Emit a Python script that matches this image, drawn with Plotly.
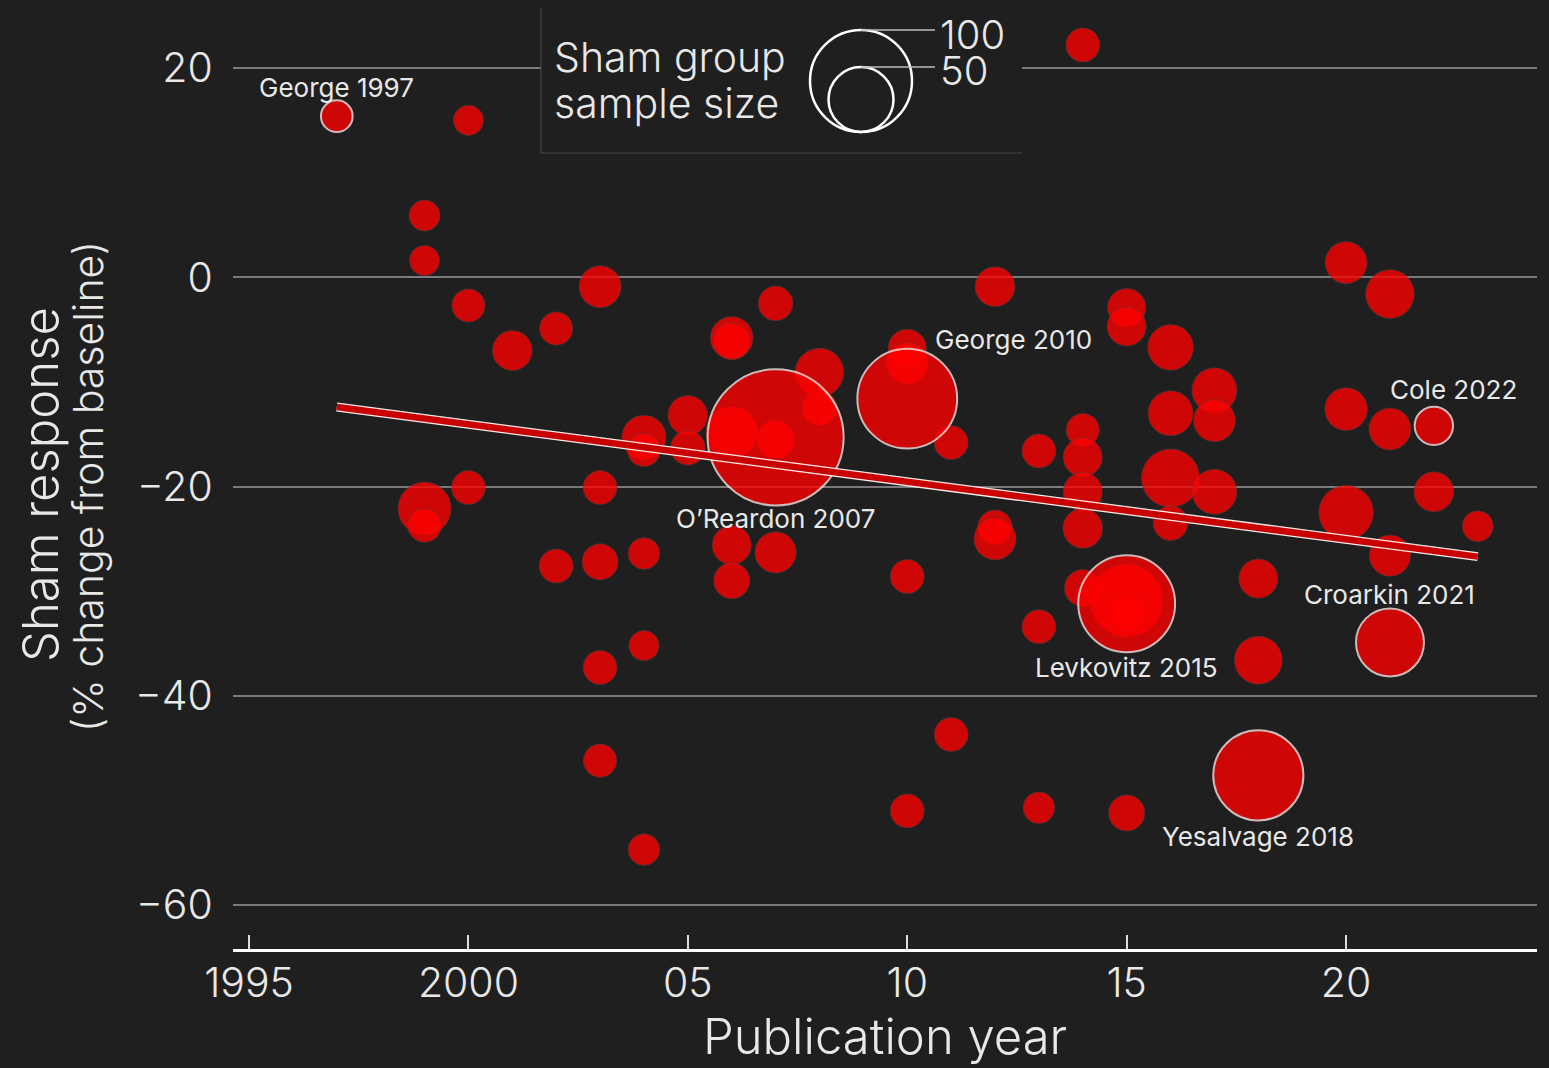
import plotly.graph_objects as go

# ---------------- data ----------------
year = [1997, 1999, 1999, 1999, 1999, 2000, 2000, 2000, 2001, 2002, 2002,
        2003, 2003, 2003, 2003, 2003, 2004, 2004, 2004, 2004, 2004, 2005, 2005,
        2006, 2006, 2006, 2006, 2006, 2007, 2007, 2007, 2007, 2008, 2008,
        2010, 2010, 2010, 2010, 2010, 2011, 2011, 2012, 2012, 2012,
        2013, 2013, 2013, 2014, 2014, 2014, 2014, 2014, 2014,
        2015, 2015, 2015, 2015, 2015, 2015, 2016, 2016, 2016, 2016,
        2017, 2017, 2017, 2018, 2018, 2018, 2020, 2020, 2020,
        2021, 2021, 2021, 2021, 2022, 2022, 2023]
response = [15.4, 5.9, 1.6, -22.1, -23.7, 15.0, -2.7, -20.1, -7.0, -4.9, -27.6,
            -0.9, -20.1, -27.2, -37.3, -46.2, -15.3, -16.5, -26.4, -35.2, -54.7, -13.2, -16.3,
            -5.8, -6.1, -14.8, -25.6, -29.0, -15.3, -15.5, -2.5, -26.3, -9.1, -12.5,
            -11.6, -6.8, -8.2, -28.6, -51.0, -15.8, -43.7, -0.9, -23.9, -25.0,
            -16.6, -33.4, -50.7, 22.2, -14.6, -17.2, -20.5, -24.0, -29.7,
            -31.2, -30.9, -32.1, -2.9, -4.7, -51.2, -6.7, -13.0, -19.2, -23.5,
            -10.8, -13.7, -20.5, -28.8, -36.6, -47.6, 1.4, -12.6, -22.5,
            -1.6, -14.5, -26.6, -34.9, -14.2, -20.5, -23.8]
sham_n = [5, 4, 3, 34, 8, 3, 7, 8, 16, 7, 8,
          19, 8, 11, 8, 7, 22, 7, 5, 3, 5, 16, 9,
          20, 12, 32, 15, 11, 146, 14, 9, 18, 28, 9,
          97, 14, 19, 8, 8, 8, 8, 16, 9, 19,
          8, 8, 5, 8, 7, 15, 15, 16, 12,
          93, 61, 12, 14, 15, 11, 24, 23, 41, 9,
          23, 19, 23, 15, 27, 84, 19, 20, 36,
          28, 19, 18, 54, 14, 16, 4]
study = [""] * len(year)
study[0] = "George 1997"
study[28] = "O\u2019Reardon 2007"
study[34] = "George 2010"
study[53] = "Levkovitz 2015"
study[68] = "Yesalvage 2018"
study[75] = "Croarkin 2021"
study[76] = "Cole 2022"

trend_year = [1997, 2023]
trend_resp = [-12.4, -26.7]

x_tickvals = [1995, 2000, 2005, 2010, 2015, 2020]
x_ticktext = ["1995", "2000", "05", "10", "15", "20"]
y_tickvals = [20, 0, -20, -40, -60]
y_ticktext = ["20", "0", "\u221220", "\u221240", "\u221260"]
legend_sizes = [100, 50]

# ---------------- style ----------------
BG = "#1f1f1f"
TXT = "#e8e8e8"
FONT = "Inter"

def bubble_px(n):
    return 28 + 0.74 * n

# label offsets in pixels (xshift, yshift, xanchor)
label_pos = {
    "George 1997": (0, 29, "center"),
    "O\u2019Reardon 2007": (0, -81, "center"),
    "George 2010": (26, 59, "left"),
    "Levkovitz 2015": (0, -64, "center"),
    "Yesalvage 2018": (0, -61, "center"),
    "Croarkin 2021": (0, 48, "center"),
    "Cole 2022": (20, 36, "center"),
}

W, H = 1549, 1068
L, R, T, B = 233, 12, 0, 119
PW, PH = W - L - R, H - T - B

def px_x(px):
    return (px - L) / PW

def px_y(py):
    return (H - B - py) / PH

plain = [i for i in range(len(year)) if not study[i]]
hl = [i for i in range(len(year)) if study[i]]

fig = go.Figure()
fig.add_trace(go.Scatter(
    x=[year[i] for i in plain], y=[response[i] for i in plain], mode="markers",
    marker=dict(size=[bubble_px(sham_n[i]) for i in plain], sizemode="diameter",
                color="rgb(255,0,0)", opacity=0.78,
                line=dict(width=1, color="rgba(70,70,70,0.6)")),
    hoverinfo="skip", showlegend=False))
fig.add_trace(go.Scatter(
    x=[year[i] for i in hl], y=[response[i] for i in hl], mode="markers",
    marker=dict(size=[bubble_px(sham_n[i]) for i in hl], sizemode="diameter",
                color="rgb(255,0,0)", opacity=0.78,
                line=dict(width=2, color="rgba(255,230,230,1)")),
    hoverinfo="skip", showlegend=False))
fig.add_trace(go.Scatter(x=trend_year, y=trend_resp, mode="lines",
                         line=dict(color="rgba(255,235,235,1)", width=9),
                         hoverinfo="skip", showlegend=False))
fig.add_trace(go.Scatter(x=trend_year, y=trend_resp, mode="lines",
                         line=dict(color="rgb(200,0,0)", width=6.5),
                         hoverinfo="skip", showlegend=False))

annotations = []
for i in hl:
    dx, dy, xa = label_pos[study[i]]
    annotations.append(dict(x=year[i], y=response[i], xref="x", yref="y",
                            text=study[i], showarrow=False, xshift=dx, yshift=dy,
                            xanchor=xa, yanchor="middle",
                            font=dict(family=FONT, size=26, color=TXT, weight=400)))

# axis titles
annotations.append(dict(x=px_x(885), y=px_y(1036), xref="paper", yref="paper",
                        text="Publication year", showarrow=False,
                        xanchor="center", yanchor="middle",
                        font=dict(family=FONT, size=49, color=TXT, weight=300)))
annotations.append(dict(x=px_x(40), y=px_y(485), xref="paper", yref="paper",
                        text="Sham response", showarrow=False, textangle=-90,
                        xanchor="center", yanchor="middle",
                        font=dict(family=FONT, size=49, color=TXT, weight=300)))
annotations.append(dict(x=px_x(88), y=px_y(487), xref="paper", yref="paper",
                        text="(% change from baseline)", showarrow=False, textangle=-90,
                        xanchor="center", yanchor="middle",
                        font=dict(family=FONT, size=41, color=TXT, weight=300)))

# size legend
shapes = []
shapes.append(dict(type="rect", xref="paper", yref="paper",
                   x0=px_x(541), x1=px_x(1022), y0=px_y(153), y1=px_y(6),
                   fillcolor=BG, line=dict(width=0), layer="above"))
shapes.append(dict(type="line", xref="paper", yref="paper",
                   x0=px_x(541), x1=px_x(1022), y0=px_y(153), y1=px_y(153),
                   line=dict(color="#4a4a4a", width=1), layer="above"))
shapes.append(dict(type="line", xref="paper", yref="paper",
                   x0=px_x(541), x1=px_x(541), y0=px_y(153), y1=px_y(8),
                   line=dict(color="#4a4a4a", width=1), layer="above"))
cx, cb = 861, 132
for n in legend_sizes:
    d = bubble_px(n)
    shapes.append(dict(type="circle", xref="paper", yref="paper",
                       xsizemode="pixel", ysizemode="pixel",
                       xanchor=px_x(cx), yanchor=px_y(cb),
                       x0=-d / 2, x1=d / 2, y0=0, y1=d,
                       line=dict(color="white", width=2.5), layer="above"))
    shapes.append(dict(type="line", xref="paper", yref="paper",
                       x0=px_x(cx), x1=px_x(935), y0=px_y(cb - d), y1=px_y(cb - d),
                       line=dict(color="#bdbdbd", width=1.5), layer="above"))
    annotations.append(dict(x=px_x(938), y=px_y(cb - d + 4), xref="paper", yref="paper",
                            text=str(n), showarrow=False, xanchor="left", yanchor="middle",
                            font=dict(family=FONT, size=40, color=TXT, weight=300)))
for txt, yy in [("Sham group", 57), ("sample size", 103)]:
    annotations.append(dict(x=px_x(552), y=px_y(yy), xref="paper", yref="paper",
                            text=txt, showarrow=False,
                            xanchor="left", yanchor="middle", align="left",
                            font=dict(family=FONT, size=41, color=TXT, weight=300)))

fig.update_layout(
    width=W, height=H,
    margin=dict(l=L, r=R, t=T, b=B, pad=0),
    paper_bgcolor=BG, plot_bgcolor=BG,
    showlegend=False,
    annotations=annotations, shapes=shapes,
    xaxis=dict(range=[1994.635, 2024.35], tickvals=x_tickvals, ticktext=x_ticktext,
               showgrid=False, zeroline=False, showline=True, linecolor="white",
               linewidth=3, ticks="inside", ticklen=14, tickwidth=1.5,
               tickcolor="#dddddd", ticklabelstandoff=-4,
               tickfont=dict(family=FONT, size=41, color=TXT, weight=300)),
    yaxis=dict(range=[-64.2, 26.5], tickvals=y_tickvals, ticktext=y_ticktext,
               showgrid=True, gridcolor="#7a7a7a", gridwidth=1.5, zeroline=False,
               showline=False, ticks="outside", ticklen=11, tickcolor="rgba(0,0,0,0)",
               tickfont=dict(family=FONT, size=41, color=TXT, weight=300)),
)

fig.write_html("out.html", config={"displayModeBar": False},
               post_script="document.body.style.margin='0';"
                           "document.body.style.background='#1f1f1f';"
                           "document.documentElement.style.background='#1f1f1f';")
